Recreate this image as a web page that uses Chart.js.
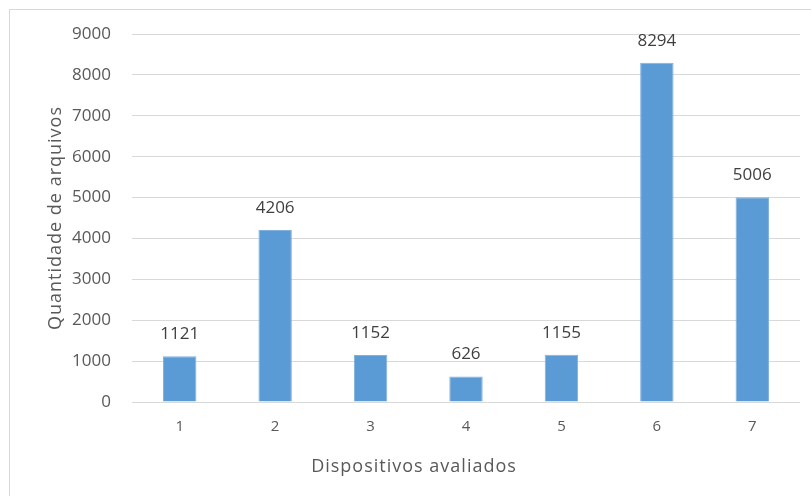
<!DOCTYPE html>
<html>
<head>
<meta charset="utf-8">
<script src="https://cdn.jsdelivr.net/npm/chart.js@4/dist/chart.umd.min.js"></script>
<style>
  html, body { margin: 0; padding: 0; background: #ffffff; }
  #wrap { width: 811px; height: 496px; }
</style>
</head>
<body>
<div id="wrap"><canvas id="chart" width="811" height="496"></canvas></div>
<script>
// Data
const devices = ["1", "2", "3", "4", "5", "6", "7"];
const fileCounts = [1121, 4206, 1152, 626, 1155, 8294, 5006];
const yMax = 9000;
const yStep = 1000;
const xTitle = "Dispositivos avaliados";
const yTitle = "Quantidade de arquivos";

const FONT = "'Open Sans', sans-serif";

// Draws the frame, the axis titles and the value labels above each bar
const excelLook = {
  id: "excelLook",
  beforeDraw(chart) {
    const ctx = chart.ctx;
    ctx.save();
    ctx.fillStyle = "#ffffff";
    ctx.fillRect(0, 0, chart.width, chart.height);
    ctx.strokeStyle = "#d9d9d9";
    ctx.lineWidth = 1;
    ctx.strokeRect(9.5, 9.5, 1000, 1000);
    ctx.restore();
  },
  afterDatasetsDraw(chart) {
    const ctx = chart.ctx;
    const meta = chart.getDatasetMeta(0);
    ctx.save();
    ctx.font = "17px " + FONT;
    ctx.fillStyle = "#404040";
    ctx.textAlign = "center";
    ctx.textBaseline = "middle";
    meta.data.forEach((bar, i) => {
      ctx.fillText(String(fileCounts[i]), bar.x, bar.y - 22);
    });

    // axis titles, a little spaced out like the original
    ctx.fillStyle = "#595959";
    ctx.font = "18px " + FONT;
    ctx.letterSpacing = "1px";
    ctx.fillText(xTitle, 414, 467);

    ctx.translate(56, 218);
    ctx.rotate(-Math.PI / 2);
    ctx.fillText(yTitle, 0, 0);
    ctx.restore();
  }
};

const config = {
  type: "bar",
  data: {
    labels: devices,
    datasets: [{
      label: yTitle,
      data: fileCounts,
      backgroundColor: "#5b9bd5",
      borderColor: "#7fb0de",
      borderWidth: 1,
      categoryPercentage: 1,
      barPercentage: 0.35
    }]
  },
  options: {
    responsive: false,
    animation: false,
    layout: {
      padding: { left: 0, top: 34, right: 11, bottom: 0 }
    },
    plugins: {
      legend: { display: false },
      tooltip: { enabled: false },
      title: { display: false }
    },
    scales: {
      x: {
        grid: { display: false, drawTicks: false },
        border: { display: false },
        ticks: {
          padding: 16,
          color: "#595959",
          font: { family: FONT, size: 15 }
        },
        afterFit(scale) { scale.height = 94; }
      },
      y: {
        min: 0,
        max: yMax,
        grid: { color: "#d9d9d9", lineWidth: 1, drawTicks: false },
        border: { display: false },
        ticks: {
          stepSize: yStep,
          padding: 21,
          color: "#595959",
          font: { family: FONT, size: 17 },
          // no thousands separator in the original
          callback: (value) => String(value)
        },
        afterFit(scale) { scale.width = 132; }
      }
    }
  },
  plugins: [excelLook]
};

new Chart(document.getElementById("chart"), config);
</script>
</body>
</html>
